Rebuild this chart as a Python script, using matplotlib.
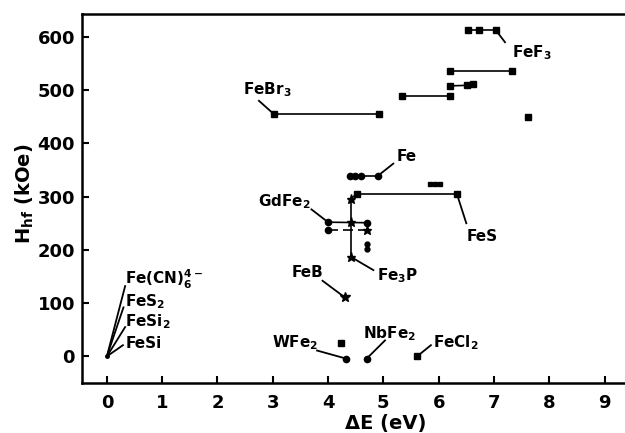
import matplotlib
matplotlib.use('Agg')
import matplotlib.pyplot as plt

# ---------------- data (ΔE in eV, H_hf in kOe) ----------------
febr3_x = [3.02, 4.92]
febr3_y = [455, 455]

fef3_a_x = [6.53, 6.73, 7.03]
fef3_a_y = [613, 613, 613]
fef3_b_x = [6.20, 7.32]
fef3_b_y = [536, 536]
fef3_c_x = [6.20, 6.51, 6.62]
fef3_c_y = [508, 509, 511]
fef3_d_x = [5.33, 6.20]
fef3_d_y = [489, 489]
fef3_e_x = [7.61]
fef3_e_y = [449]

fe_x = [4.39, 4.48, 4.59, 4.90]
fe_y = [339, 339, 339, 339]

fes_x = [4.41, 4.52, 6.33]
fes_y = [296, 305, 305]
fes_extra_x = [5.84, 5.93, 6.02]
fes_extra_y = [323, 323, 323]

fe3p_x = [4.41, 4.41, 4.41]
fe3p_y = [296, 253, 187]

gdfe2_a_x = [4.00, 4.71]
gdfe2_a_y = [252, 251]
gdfe2_b_x = [4.00, 4.70]
gdfe2_b_y = [237, 237]
gdfe2_dots_x = [4.70, 4.70]
gdfe2_dots_y = [211, 202]

feb_x = [4.30]
feb_y = [111]

wfe2_x = [4.32]
wfe2_y = [-4]
wfe2_sq_x = [4.23]
wfe2_sq_y = [26]
nbfe2_x = [4.70]
nbfe2_y = [-4]
fecl2_x = [5.61]
fecl2_y = [0]

origin_x = [0.0]
origin_y = [0.0]

x_ticks = [0, 1, 2, 3, 4, 5, 6, 7, 8, 9]
y_ticks = [0, 100, 200, 300, 400, 500, 600]

# labels: text, text position, leader start, leader end (a data point)
labels = [
    ('FeF$_3$',        7.32, 570, 7.20, 590, fef3_a_x[2], fef3_a_y[2]),
    ('FeBr$_3$',       2.46, 500, 2.75, 480, febr3_x[0], febr3_y[0]),
    ('Fe',             5.24, 376, 5.18, 362, fe_x[3], fe_y[3]),
    ('FeS',            6.50, 226, 6.50, 250, fes_x[2], fes_y[2]),
    ('GdFe$_2$',       2.73, 290, 3.70, 276, gdfe2_a_x[0], gdfe2_a_y[0]),
    ('Fe$_3$P',        4.88, 152, 4.82, 162, fe3p_x[2], fe3p_y[2]),
    ('FeB',            3.35, 158, 3.90, 142, feb_x[0], feb_y[0]),
    ('WFe$_2$',        2.98, 26,  3.80, 11,  wfe2_x[0], wfe2_y[0]),
    ('NbFe$_2$',       4.63, 43,  5.03, 30,  nbfe2_x[0], nbfe2_y[0]),
    ('FeCl$_2$',       5.90, 26,  5.86, 21,  fecl2_x[0], fecl2_y[0]),
    ('Fe(CN)$_6^{4-}$', 0.33, 145, 0.33, 132, origin_x[0], origin_y[0]),
    ('FeS$_2$',        0.33, 103, 0.30, 92,  origin_x[0], origin_y[0]),
    ('FeSi$_2$',       0.33, 66,  0.33, 55,  origin_x[0], origin_y[0]),
    ('FeSi',           0.33, 24,  0.29, 21,  origin_x[0], origin_y[0]),
]

# ---------------- figure ----------------
plt.rcParams['font.family'] = ['DejaVu Sans']
plt.rcParams['font.weight'] = 'bold'
plt.rcParams['mathtext.fontset'] = 'custom'
plt.rcParams['mathtext.rm'] = 'DejaVu Sans:bold'
plt.rcParams['mathtext.it'] = 'DejaVu Sans:bold'
plt.rcParams['mathtext.bf'] = 'DejaVu Sans:bold'
plt.rcParams['mathtext.default'] = 'bf'

fig = plt.figure(figsize=(6.25, 4.33), dpi=100)
ax = fig.add_axes([82/625, 50/433, (625-82)/625, (383-14)/433])

k = 'black'
lw = 1.2
sq = dict(marker='s', ms=4.5, color=k, lw=lw)
ci = dict(marker='o', ms=4.5, color=k, lw=lw)
st = dict(marker='*', ms=6.5, color=k, lw=lw)

ax.plot(febr3_x, febr3_y, **sq)
ax.plot(fef3_a_x, fef3_a_y, **sq)
ax.plot(fef3_b_x, fef3_b_y, **sq)
ax.plot(fef3_c_x, fef3_c_y, **sq)
ax.plot(fef3_d_x, fef3_d_y, **sq)
ax.plot(fef3_e_x, fef3_e_y, ls='none', marker='s', ms=4.5, color=k)
ax.plot(fe_x, fe_y, **ci)
ax.plot(fes_x[1:], fes_y[1:], **sq)
ax.plot(fes_x[:2], fes_y[:2], color=k, lw=lw)
ax.plot(fes_extra_x, fes_extra_y, ls='none', marker='s', ms=3.5, color=k)
ax.plot(fe3p_x, fe3p_y, **st)
ax.plot(gdfe2_a_x, gdfe2_a_y, **ci)
ax.plot(gdfe2_b_x, gdfe2_b_y, color=k, lw=lw, dashes=(6, 3))
ax.plot(gdfe2_b_x[:1], gdfe2_b_y[:1], ls='none', marker='o', ms=4.5, color=k)
ax.plot(gdfe2_b_x[1:], gdfe2_b_y[1:], ls='none', marker='*', ms=6.5, color=k)
ax.plot(gdfe2_dots_x, gdfe2_dots_y, ls='none', marker='o', ms=3.5, color=k)
ax.plot(feb_x, feb_y, ls='none', marker='*', ms=7, color=k)
ax.plot(wfe2_x, wfe2_y, ls='none', marker='o', ms=4.5, color=k)
ax.plot(wfe2_sq_x, wfe2_sq_y, ls='none', marker='s', ms=4.5, color=k)
ax.plot(nbfe2_x, nbfe2_y, ls='none', marker='o', ms=4.5, color=k)
ax.plot(fecl2_x, fecl2_y, ls='none', marker='s', ms=4.5, color=k)
ax.plot(origin_x, origin_y, ls='none', marker='o', ms=2.5, color=k)

for txt, tx, ty, lx, ly, px, py in labels:
    ax.plot([lx, px], [ly, py], color=k, lw=1.3)
    ax.text(tx, ty, txt, fontsize=11, fontweight='bold', ha='left', va='center')

ax.set_xlim(-0.45, 9.37)
ax.set_ylim(-50, 643)
ax.set_xticks(x_ticks)
ax.set_yticks(y_ticks)
ax.tick_params(direction='in', length=5, width=1.5, labelsize=13, pad=8)
ax.tick_params(axis='y', pad=5)
for lab in ax.get_xticklabels() + ax.get_yticklabels():
    lab.set_fontweight('bold')
for s in ['left', 'bottom', 'top']:
    ax.spines[s].set_linewidth(1.8)
ax.spines['right'].set_visible(False)

ax.set_xlabel('ΔE (eV)', fontsize=14, fontweight='bold')
ax.xaxis.set_label_coords(0.56, -0.085)
ax.set_ylabel(r'H$_{\mathbf{hf}}$ (kOe)', fontsize=14, fontweight='bold')
ax.yaxis.set_label_coords(-0.085, 0.512)

fig.savefig('out.png', dpi=100)
